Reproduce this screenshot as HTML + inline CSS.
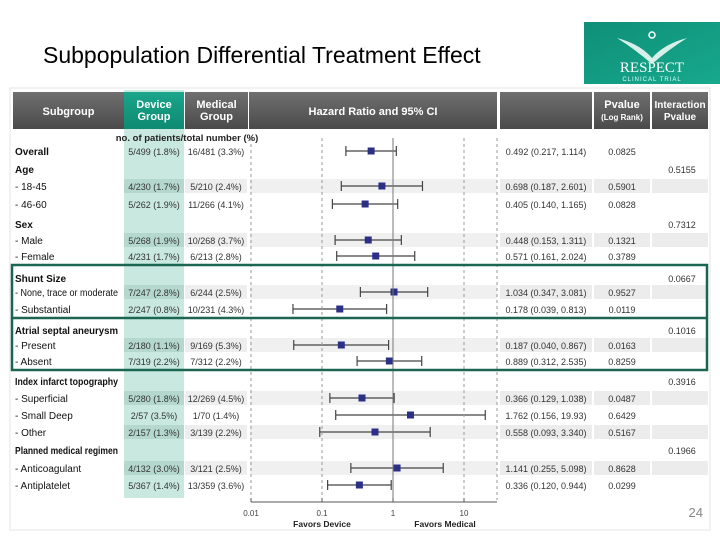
<!DOCTYPE html>
<html><head><meta charset="utf-8"><style>
body{margin:0;background:#fff;width:720px;height:540px;overflow:hidden;font-family:"Liberation Sans",sans-serif}
svg{position:absolute;left:0;top:0}
</style></head><body>
<svg width="720" height="540">
<defs>
<linearGradient id="hg" x1="0" y1="0" x2="0" y2="1"><stop offset="0" stop-color="#707070"/><stop offset="1" stop-color="#4a4a4a"/></linearGradient>
<linearGradient id="tg" x1="0" y1="0" x2="0" y2="1"><stop offset="0" stop-color="#1aa58a"/><stop offset="1" stop-color="#0e8a72"/></linearGradient>
<linearGradient id="lg" x1="0" y1="0" x2="1" y2="1"><stop offset="0" stop-color="#0f8f78"/><stop offset="1" stop-color="#17a98d"/></linearGradient>
</defs>
<text x="43" y="63" font-size="23" fill="#000">Subpopulation Differential Treatment Effect</text>
<g>
<rect x="584" y="22" width="136" height="62" fill="url(#lg)"/>
<path d="M617 38 Q640 44 652 58 Q664 44 687 38 Q668 50 652 64 Q636 50 617 38Z" fill="#d8f0ea"/>
<circle cx="652" cy="35" r="3" fill="none" stroke="#fff" stroke-width="1.5"/>
<text x="652" y="72" font-family="Liberation Serif,serif" font-size="15" fill="#fff" text-anchor="middle">RESPECT</text>
<text x="652" y="81" font-size="6" fill="#dff" text-anchor="middle" letter-spacing="1">CLINICAL TRIAL</text>
</g>
<rect x="10" y="88" width="700" height="442" fill="none" stroke="#e4e4e4"/>
<rect x="124" y="90" width="60" height="408" fill="#c9e8df"/>
<g id="hdr" font-weight="bold" fill="#fff" text-anchor="middle" font-size="11"></g>
<g id="rows"></g>
<g id="axis"></g>
<rect x="12" y="265" width="695" height="105" fill="none" stroke="#1a6650" stroke-width="2.5"/>
<line x1="12" y1="318" x2="707" y2="318" stroke="#1a6650" stroke-width="2.5"/>
<text x="703" y="517" font-size="13" fill="#888" text-anchor="end">24</text>
</svg>
<script>
const labels=["Overall","Age","- 18-45","- 46-60","Sex","- Male","- Female","Shunt Size","- None, trace or moderate","- Substantial","Atrial septal aneurysm","- Present","- Absent","Index infarct topography","- Superficial","- Small Deep","- Other","Planned medical regimen","- Anticoagulant","- Antiplatelet"];
const rowY=[151,169,186,204,224,240,256,278,292,309,330,345,361,381,398,415,432,450,468,485];
const isHeader=[1,1,0,0,1,0,0,1,0,0,1,0,0,1,0,0,0,1,0,0];
const device=["5/499 (1.8%)","","4/230 (1.7%)","5/262 (1.9%)","","5/268 (1.9%)","4/231 (1.7%)","","7/247 (2.8%)","2/247 (0.8%)","","2/180 (1.1%)","7/319 (2.2%)","","5/280 (1.8%)","2/57 (3.5%)","2/157 (1.3%)","","4/132 (3.0%)","5/367 (1.4%)"];
const medical=["16/481 (3.3%)","","5/210 (2.4%)","11/266 (4.1%)","","10/268 (3.7%)","6/213 (2.8%)","","6/244 (2.5%)","10/231 (4.3%)","","9/169 (5.3%)","7/312 (2.2%)","","12/269 (4.5%)","1/70 (1.4%)","3/139 (2.2%)","","3/121 (2.5%)","13/359 (3.6%)"];
const hr=[0.492,null,0.698,0.405,null,0.448,0.571,null,1.034,0.178,null,0.187,0.889,null,0.366,1.762,0.558,null,1.141,0.336];
const lo=[0.217,null,0.187,0.140,null,0.153,0.161,null,0.347,0.039,null,0.040,0.312,null,0.129,0.156,0.093,null,0.255,0.120];
const hi=[1.114,null,2.601,1.165,null,1.311,2.024,null,3.081,0.813,null,0.867,2.535,null,1.038,19.93,3.340,null,5.098,0.944];
const pval=["0.0825","","0.5901","0.0828","","0.1321","0.3789","","0.9527","0.0119","","0.0163","0.8259","","0.0487","0.6429","0.5167","","0.8628","0.0299"];
const interaction=["","0.5155","","","0.7312","","","0.0667","","","0.1016","","","0.3916","","","","0.1966","",""];
const ticks=[0.01,0.1,1,10];
const tickLabels=["0.01","0.1","1","10"];
const NS="http://www.w3.org/2000/svg";
const X=v=>251+71*Math.log10(v/0.01);
function mk(p,t,a){const e=document.createElementNS(NS,t);for(const k in a)e.setAttribute(k,a[k]);p.appendChild(e);return e;}
const hdr=document.getElementById('hdr'),rows=document.getElementById('rows'),axis=document.getElementById('axis');
const heads=[[13,124,["Subgroup"],"url(#hg)"],[124,184,["Device","Group"],"url(#tg)"],[185,248,["Medical","Group"],"url(#hg)"],[249,497,["Hazard Ratio and 95% CI"],"url(#hg)"],[500,592,[""],"url(#hg)"],[594,650,["Pvalue","(Log Rank)"],"url(#hg)"],[652,708,["Interaction","Pvalue"],"url(#hg)"]];
heads.forEach((h,i)=>{
 const r=mk(hdr,'rect',{x:h[0],y:92,width:h[1]-h[0],height:37,fill:h[3]});
 
 
 h[2].forEach((s,j)=>{const t=mk(hdr,'text',{x:(h[0]+h[1])/2,y:h[2].length==1?115:108+j*12,'font-size':(s[0]=='('?8:(i==6?10:11))});t.textContent=s;});
});
const sub=mk(rows,'text',{x:187,y:141,'font-size':9.5,'font-weight':'bold','text-anchor':'middle',fill:'#222'});
sub.textContent="no. of patients/total number (%)";


labels.forEach((l,i)=>{
 const y=rowY[i];
 if(!isHeader[i]&&[0,2,5,8,11,14,16,18].includes(i)){
  mk(rows,'rect',{x:124,y:y-7,width:60,height:14,fill:'#b5d8ce'});
  mk(rows,'rect',{x:185,y:y-7,width:62,height:14,fill:'#eeeeee'});
  mk(rows,'rect',{x:250,y:y-7,width:247,height:14,fill:'#f0f0f0'});
  mk(rows,'rect',{x:500,y:y-7,width:92,height:14,fill:'#ececec'});
  mk(rows,'rect',{x:594,y:y-7,width:56,height:14,fill:'#ececec'});
  mk(rows,'rect',{x:652,y:y-7,width:56,height:14,fill:'#ececec'});
 }
});
[0.01,0.1,10].forEach(v=>{const d=mk(axis,'line',{x1:X(v),y1:138,x2:X(v),y2:500,stroke:'#999','stroke-dasharray':'3,3'});});
mk(axis,'line',{x1:497,y1:138,x2:497,y2:500,stroke:'#999','stroke-dasharray':'3,3'});
const ref=mk(axis,'line',{x1:X(1),y1:138,x2:X(1),y2:502,stroke:'#777'});


const ax=mk(axis,'line',{x1:X(0.01),y1:502,x2:497,y2:502,stroke:'#555'});


ticks.forEach((v,i)=>{mk(axis,'line',{x1:X(v),y1:498,x2:X(v),y2:502,stroke:'#555'});
 const t=mk(axis,'text',{x:X(v),y:516,'font-size':8,'text-anchor':'middle',fill:'#444'});t.textContent=tickLabels[i];
 });
[["Favors Device",322],["Favors Medical",445]].forEach(f=>{const t=mk(axis,'text',{x:f[1],y:527,'font-size':8.5,'font-weight':'bold','text-anchor':'middle',fill:'#222'});t.textContent=f[0];});
labels.forEach((l,i)=>{
 const y=rowY[i];
 const t=mk(rows,'text',{x:15,y:y+4,'font-size':10,'font-weight':isHeader[i]?'bold':'normal',fill:'#111'});t.textContent=l;
 
 if(t.getComputedTextLength()>103){t.setAttribute('textLength',103);t.setAttribute('lengthAdjust','spacingAndGlyphs');}
 if(device[i]){const d=mk(rows,'text',{x:154,y:y+4,'font-size':9,'text-anchor':'middle',fill:'#333'});d.textContent=device[i];}
 if(medical[i]){const d=mk(rows,'text',{x:216,y:y+4,'font-size':9,'text-anchor':'middle',fill:'#333'});d.textContent=medical[i];}
 if(hr[i]!=null){
  const s=mk(rows,'text',{x:546,y:y+4,'font-size':9,'text-anchor':'middle',fill:'#333'});
  s.textContent=hr[i].toFixed(3)+" ("+lo[i].toFixed(3)+", "+(hi[i]>=10?hi[i].toFixed(2):hi[i].toFixed(3))+")";
  
  const ci=mk(rows,'line',{x1:X(lo[i]),y1:y,x2:X(hi[i]),y2:y,stroke:'#444','stroke-width':1.2});
  
  [lo[i],hi[i]].forEach(v=>mk(rows,'line',{x1:X(v),y1:y-5,x2:X(v),y2:y+5,stroke:'#444','stroke-width':1.2}));
  const b=mk(rows,'rect',{x:X(hr[i])-3.5,y:y-3.5,width:7,height:7,fill:'#2b2f86'});
  
 }
 if(pval[i]){const p=mk(rows,'text',{x:622,y:y+4,'font-size':9,'text-anchor':'middle',fill:'#333'});p.textContent=pval[i];}
 if(interaction[i]){const p=mk(rows,'text',{x:682,y:y+4,'font-size':9,'text-anchor':'middle',fill:'#333'});p.textContent=interaction[i];}
});
</script>
</body></html>
